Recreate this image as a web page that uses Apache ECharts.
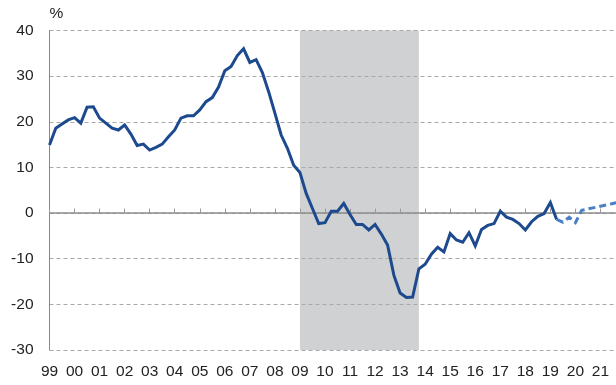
<!DOCTYPE html>
<html>
<head>
<meta charset="utf-8">
<script src="https://cdn.jsdelivr.net/npm/echarts@6/dist/echarts.min.js"></script>
<style>
  html, body { margin: 0; padding: 0; background: #fff; }
  #chart { width: 616px; height: 385px; }
</style>
</head>
<body>
<div id="chart"></div>
<script>
// Quarterly series, first value is Q1 1999
const startYear = 1999;
const actual = [
  14.9, 18.6, 19.5, 20.4,
  20.9, 19.7, 23.2, 23.3,
  20.8, 19.7, 18.6, 18.2,
  19.3, 17.3, 14.8, 15.1,
  13.8, 14.4, 15.1, 16.7,
  18.2, 20.8, 21.3, 21.3,
  22.6, 24.4, 25.3, 27.6,
  31.2, 32.1, 34.5, 36.0,
  33.0, 33.6, 30.8, 26.6,
  21.9, 17.1, 14.2, 10.5,
  8.9, 4.3, 1.0, -2.3,
  -2.1, 0.4, 0.4, 2.1,
  -0.3, -2.5, -2.5, -3.7,
  -2.5, -4.6, -7.0, -13.6,
  -17.5, -18.5, -18.4, -12.2,
  -11.2, -9.0, -7.5, -8.5,
  -4.5, -5.9, -6.4, -4.3,
  -7.2, -3.6, -2.7, -2.3,
  0.4, -0.9, -1.4, -2.3,
  -3.7, -1.9, -0.7, -0.1,
  2.3, -1.4
];
// Projection, starting from the last actual quarter (Q2 2019)
const projectionStart = 2019.25;
const projection = [-1.4, -2.0, -0.9, -2.1, 0.6, 0.9, 1.2, 1.5, 1.8, 2.1, 2.4];

// Shaded period
const shadeFrom = 2009.0;
const shadeTo = 2013.75;

// Axis settings
const yMin = -30, yMax = 40, yStep = 10;
const xMin = 1999, xMax = 2022;

const toPairs = (start, vals) => vals.map((v, i) => [start + i * 0.25, v]);

const gridColor = '#a9a9a9';
const labelFont = { color: '#222', fontSize: 15.5, fontFamily: 'Liberation Sans, Arial, sans-serif' };

const chart = echarts.init(document.getElementById('chart'), null, { renderer: 'canvas' });
chart.setOption({
  animation: false,
  grid: {
    left: 49.5, top: 30.5, width: 576, height: 319.5,
    containLabel: false,
    outerBoundsMode: 'none'
  },
  xAxis: {
    type: 'value',
    min: xMin, max: xMax, interval: 1,
    z: 2,
    axisLine: { show: false },
    axisTick: { show: true, inside: true, length: 4.5, lineStyle: { color: '#999', width: 1 } },
    splitLine: { show: false },
    axisLabel: Object.assign({
      margin: 14,
      formatter: v => (v >= xMax ? '' : String(Math.round(v) % 100).padStart(2, '0'))
    }, labelFont)
  },
  yAxis: {
    type: 'value',
    min: yMin, max: yMax, interval: yStep,
    z: 2,
    name: '%',
    nameLocation: 'end',
    nameGap: 9,
    nameTextStyle: Object.assign({ align: 'left' }, labelFont),
    axisLine: { show: true, lineStyle: { color: '#888', width: 1 } },
    axisTick: { show: false },
    axisLabel: Object.assign({ margin: 16 }, labelFont),
    splitLine: { show: true, lineStyle: { color: gridColor, width: 1, type: [4, 3] } }
  },
  series: [
    {
      type: 'line',
      z: 3,
      data: toPairs(startYear, actual),
      showSymbol: false,
      lineStyle: { color: '#1d4a8e', width: 3, join: 'miter' },
      markArea: {
        silent: true,
        z: 1,
        itemStyle: { color: '#d0d1d3' },
        data: [[{ xAxis: shadeFrom }, { xAxis: shadeTo }]]
      },
      markLine: {
        silent: true,
        z: 2,
        symbol: 'none',
        label: { show: false },
        lineStyle: { color: '#8c8c8c', width: 1.5, type: 'solid' },
        data: [{ yAxis: 0 }]
      }
    },
    {
      type: 'line',
      z: 3,
      data: toPairs(projectionStart, projection),
      showSymbol: false,
      lineStyle: { color: '#4a7fc6', width: 3, type: [7, 4], join: 'miter' }
    }
  ]
});
</script>
</body>
</html>
